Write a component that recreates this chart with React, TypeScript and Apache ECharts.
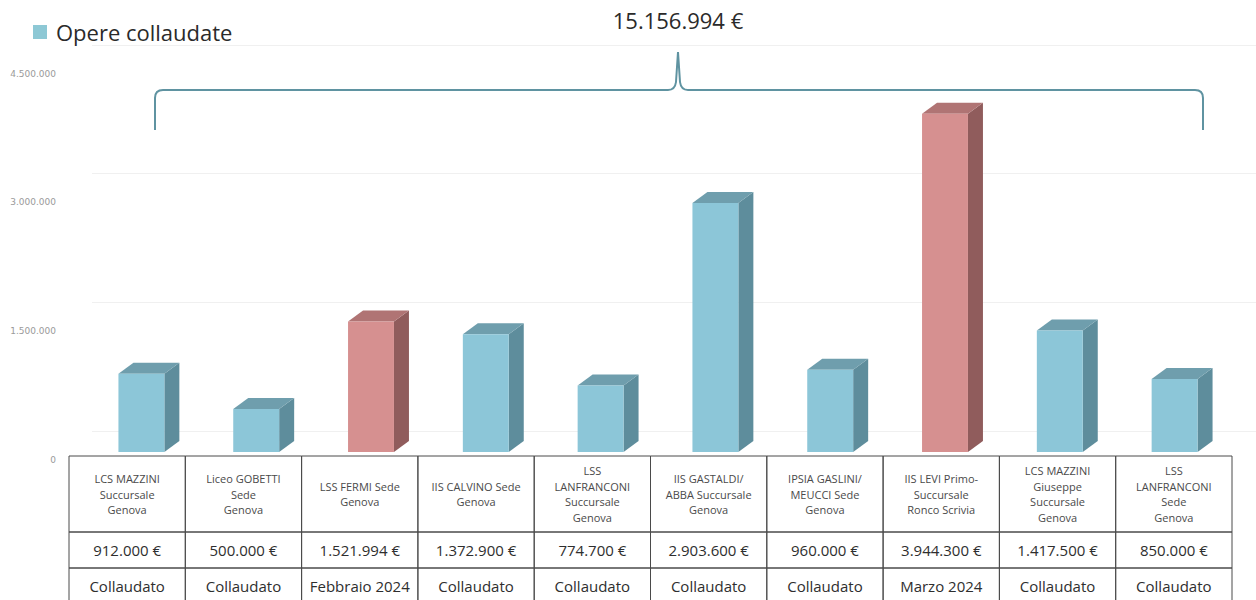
import React, { useEffect, useRef } from "react";
import * as echarts from "echarts";

const categories: string[] = [
  "LCS MAZZINI\nSuccursale\nGenova",
  "Liceo GOBETTI\nSede\nGenova",
  "LSS FERMI Sede\nGenova",
  "IIS CALVINO Sede\nGenova",
  "LSS\nLANFRANCONI\nSuccursale\nGenova",
  "IIS GASTALDI/\nABBA Succursale\nGenova",
  "IPSIA GASLINI/\nMEUCCI Sede\nGenova",
  "IIS LEVI Primo-\nSuccursale\nRonco Scrivia",
  "LCS MAZZINI\nGiuseppe\nSuccursale\nGenova",
  "LSS\nLANFRANCONI\nSede\nGenova",
];
const values: number[] = [912000, 500000, 1521994, 1372900, 774700, 2903600, 960000, 3944300, 1417500, 850000];
const statuses: string[] = [
  "Collaudato",
  "Collaudato",
  "Febbraio 2024",
  "Collaudato",
  "Collaudato",
  "Collaudato",
  "Collaudato",
  "Marzo 2024",
  "Collaudato",
  "Collaudato",
];
const yTicks: number[] = [0, 1500000, 3000000, 4500000];
const legendName = "Opere collaudate";

const fmt = (n: number) => String(Math.round(n)).replace(/\B(?=(\d{3})+(?!\d))/g, ".");

const BLUE = { front: "#8CC6D8", side: "#5E8D9C", top: "#6F9EAD" };
const RED = { front: "#D69090", side: "#905C5C", top: "#B07474" };

export default function App() {
  const ref = useRef<HTMLDivElement>(null);
  useEffect(() => {
    if (!ref.current) return;
    const chart = echarts.init(ref.current, null, { renderer: "svg" });
    const total = values.reduce((a, b) => a + b, 0);
    echarts.graphic.registerShape(
      "bracket",
      echarts.graphic.extendPath(
        "M155 130 L155 98 Q155 90 163 90 L668 90 Q675 90 676 82 L678 52 L680 82 Q681 90 688 90 L1195 90 Q1203 90 1203 98 L1203 130",
        {}
      )
    );
    const barData = values.map((v, i) => [i, v]);
    const tableData = values.map((v, i) => [i, 0]);
    const valueAxisBase = {
      type: "value",
      min: 0,
      max: 4500000,
      interval: 1500000,
      axisLine: { show: false },
      axisTick: { show: false },
    };
    chart.setOption({
      animation: false,
      backgroundColor: "#ffffff",
      legend: {
        left: 28,
        top: 16,
        icon: "rect",
        itemWidth: 14,
        itemHeight: 14,
        data: [legendName],
        textStyle: { fontSize: 22, color: "#2a2a2a", fontFamily: "Open Sans", padding: [0, 0, 0, 4] },
      },
      grid: [
        { left: 84, right: 24, top: 66, bottom: 148, containLabel: false },
        { left: 69, right: 24, top: 66, bottom: 148, containLabel: false },
        { left: 92, right: 0, top: 45, bottom: 169, containLabel: false },
      ],
      xAxis: [
        { type: "category", gridIndex: 0, data: categories, show: false },
        { type: "category", gridIndex: 1, data: categories, show: false },
        { type: "category", gridIndex: 2, data: categories, show: false },
      ],
      yAxis: [
        {
          ...valueAxisBase,
          gridIndex: 0,
          splitLine: { show: false },
          axisLabel: {
            margin: 28,
            fontSize: 9,
            color: "#9a9a9a",
            fontFamily: "DejaVu Sans",
            verticalAlign: "top",
            padding: [3, 0, 0, 0],
            formatter: (v: number) => (yTicks.includes(v) ? fmt(v) : ""),
          },
        },
        {
          ...valueAxisBase,
          gridIndex: 1,
          show: false,
          splitLine: { show: false },
        },
        {
          ...valueAxisBase,
          gridIndex: 2,
          axisLabel: { show: false },
          splitLine: { show: true, lineStyle: { color: "#f0f0f0", width: 1 } },
        },
      ],
      graphic: [
        {
          type: "text",
          x: 678,
          y: 20,
          style: {
            text: fmt(total) + " €",
            fontSize: 22,
            fontFamily: "Open Sans",
            fill: "#2a2a2a",
            align: "center",
            verticalAlign: "middle",
          },
        },
        {
          type: "bracket",
          x: 0,
          y: 0,
          style: { stroke: "#5F93A1", fill: "none", lineWidth: 2 },
        },
      ],
      series: [
        {
          name: legendName,
          type: "custom",
          xAxisIndex: 0,
          yAxisIndex: 0,
          clip: false,
          itemStyle: { color: "#8DC8D5" },
          data: barData,
          encode: { x: 0, y: 1 },
          renderItem: (params: any, api: any) => {
            const idx = api.value(0);
            const val = api.value(1);
            const top = api.coord([idx, val]);
            const base = api.coord([idx, 0]);
            const band = api.size([1, 0])[0];
            const w = band * 0.4;
            const x0 = top[0] - w / 2;
            const x1 = x0 + w;
            const yT = top[1];
            const yB = base[1];
            const dx = 15;
            const dy = -11;
            const c = statuses[params.dataIndex] === "Collaudato" ? BLUE : RED;
            return {
              type: "group",
              children: [
                {
                  type: "polygon",
                  shape: { points: [[x1, yT], [x1 + dx, yT + dy], [x1 + dx, yB + dy], [x1, yB]] },
                  style: { fill: c.side },
                },
                {
                  type: "polygon",
                  shape: { points: [[x0, yT], [x0 + dx, yT + dy], [x1 + dx, yT + dy], [x1, yT]] },
                  style: { fill: c.top },
                },
                {
                  type: "rect",
                  shape: { x: x0, y: yT, width: w, height: yB - yT },
                  style: { fill: c.front },
                },
              ],
            };
          },
        },
        {
          name: "table",
          type: "custom",
          xAxisIndex: 1,
          yAxisIndex: 1,
          clip: false,
          silent: true,
          data: tableData,
          encode: { x: 0, y: 1 },
          renderItem: (params: any, api: any) => {
            const idx = api.value(0);
            const p = api.coord([idx, 0]);
            const band = api.size([1, 0])[0];
            const xL = p[0] - band / 2;
            const y0 = p[1] + 4;
            const rows = [76, 36, 40];
            const i = params.dataIndex;
            const texts = [categories[i], fmt(values[i]) + " €", statuses[i]];
            const children: any[] = [];
            let y = y0;
            rows.forEach((h, r) => {
              children.push({
                type: "rect",
                shape: { x: xL, y, width: band, height: h },
                style: { fill: "none", stroke: "#4a4a4a", lineWidth: 1 },
              });
              children.push({
                type: "text",
                x: p[0],
                y: y + h / 2 + (r === 2 ? -2 : 0),
                style: {
                  text: texts[r],
                  align: "center",
                  verticalAlign: "middle",
                  fontFamily: "Open Sans",
                  fontSize: r === 0 ? 11 : 15,
                  lineHeight: r === 0 ? 15.5 : 18,
                  fill: r === 0 ? "#4a4a4a" : "#2e2e2e",
                },
              });
              y += h;
            });
            return { type: "group", children };
          },
        },
      ],
    });
    return () => chart.dispose();
  }, []);
  return (
    <div
      ref={ref}
      style={{ position: "fixed", left: 0, top: 0, width: 1256, height: 600 }}
    />
  );
}
